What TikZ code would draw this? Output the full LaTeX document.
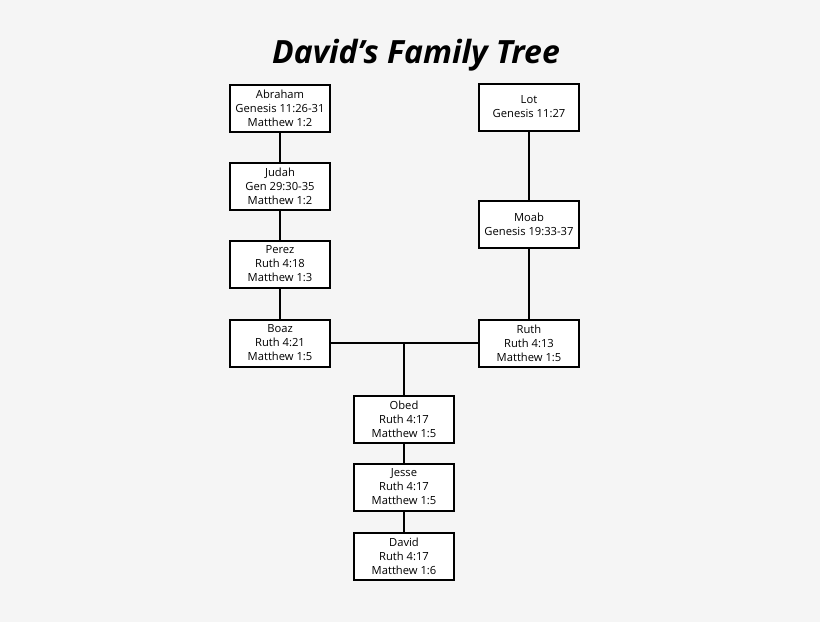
\documentclass[tikz,border=0pt]{standalone}
\usepackage{fontspec}
\setmainfont{Open Sans}
\definecolor{bggray}{RGB}{245,245,245}
\tikzset{
  person/.style={draw, line width=1pt, fill=white, minimum width=50pt, minimum height=23.5pt,
    align=center, inner sep=1pt, font=\fontsize{5.6}{7}\selectfont},
  link/.style={line width=1pt}
}
\begin{document}
\begin{tikzpicture}[x=0.5pt,y=-0.5pt]
  \fill[bggray] (0,0) rectangle (820,622);
  \useasboundingbox (0,0) rectangle (820,622);
  % title
  \node (title) at (416,55) {\fontsize{16}{18}\selectfont\bfseries\itshape David’s Family Tree};
  % left line
  \node[person] (abraham) at (280,108) {Abraham\\Genesis 11:26-31\\Matthew 1:2};
  \node[person] (judah) at (280,186) {Judah\\Gen 29:30-35\\Matthew 1:2};
  \node[person] (perez) at (280,264) {Perez\\Ruth 4:18\\Matthew 1:3};
  \node[person] (boaz) at (280,343) {Boaz\\Ruth 4:21\\Matthew 1:5};
  % right line
  \node[person] (lot) at (529,107) {Lot\\Genesis 11:27};
  \node[person] (moab) at (529,224) {Moab\\Genesis 19:33-37};
  \node[person] (ruth) at (529,343) {Ruth\\Ruth 4:13\\Matthew 1:5};
  % children
  \node[person] (obed) at (404,419) {Obed\\Ruth 4:17\\Matthew 1:5};
  \node[person] (jesse) at (404,487) {Jesse\\Ruth 4:17\\Matthew 1:5};
  \node[person] (david) at (404,556) {David\\Ruth 4:17\\Matthew 1:6};
  \coordinate (wed) at (404,343);

  \draw[link] (abraham) -- (judah) -- (perez) -- (boaz);
  \draw[link] (lot) -- (moab) -- (ruth);
  \draw[link] (boaz) -- (ruth);
  \draw[link] (wed) -- (obed) -- (jesse) -- (david);
\end{tikzpicture}
\end{document}
